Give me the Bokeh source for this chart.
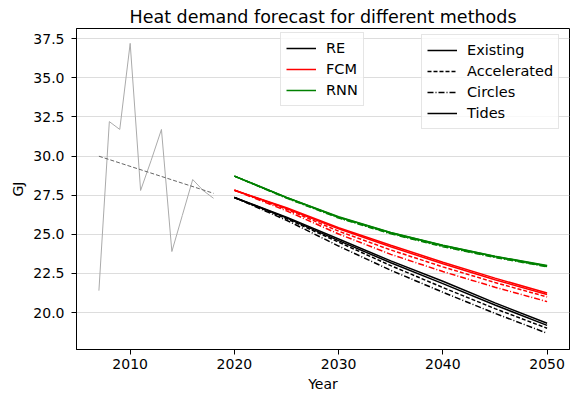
from bokeh.plotting import figure
from bokeh.models import Legend, LegendItem, FixedTicker, PrintfTickFormatter, Range1d
from bokeh.embed import file_html
from bokeh.resources import INLINE

# Observed heat demand (GJ)
hist_years = [2007, 2008, 2009, 2010, 2011, 2012, 2013, 2014, 2015, 2016, 2017, 2018]
hist_vals = [21.4, 32.2, 31.7, 37.2, 27.8, 29.7, 31.7, 23.9, 26.2, 28.5, 27.8, 27.3]

# Linear trend of the observations
trend_years = [2007, 2018]
trend_vals = [29.99, 27.62]

# Forecast horizon
fc_years = [2020, 2025, 2030, 2035, 2040, 2045, 2050]

re_existing = [27.35, 26.10, 24.70, 23.30, 22.00, 20.62, 19.32]
re_accelerated = [27.35, 26.00, 24.50, 23.00, 21.60, 20.25, 19.00]
re_circles = [27.35, 25.90, 24.25, 22.70, 21.30, 19.95, 18.68]
re_tides = [27.35, 26.05, 24.60, 23.18, 21.85, 20.48, 19.18]

fcm_existing = [27.82, 26.70, 25.42, 24.30, 23.22, 22.20, 21.25]
fcm_accelerated = [27.82, 26.60, 25.20, 24.00, 22.92, 21.92, 21.00]
fcm_circles = [27.82, 26.50, 25.02, 23.72, 22.62, 21.62, 20.70]
fcm_tides = [27.82, 26.65, 25.35, 24.20, 23.12, 22.10, 21.15]

rnn_existing = [28.72, 27.35, 26.10, 25.10, 24.28, 23.58, 22.98]
rnn_accelerated = [28.72, 27.33, 26.07, 25.06, 24.24, 23.55, 22.95]
rnn_circles = [28.72, 27.31, 26.04, 25.03, 24.21, 23.52, 22.92]
rnn_tides = [28.72, 27.36, 26.12, 25.12, 24.30, 23.60, 23.00]

methods = ["RE", "FCM", "RNN"]
scenarios = ["Existing", "Accelerated", "Circles", "Tides"]
forecasts = {
    "RE": [re_existing, re_accelerated, re_circles, re_tides],
    "FCM": [fcm_existing, fcm_accelerated, fcm_circles, fcm_tides],
    "RNN": [rnn_existing, rnn_accelerated, rnn_circles, rnn_tides],
}

y_ticks = [20.0, 22.5, 25.0, 27.5, 30.0, 32.5, 35.0, 37.5]
x_ticks = [2010, 2020, 2030, 2040, 2050]

method_colors = {"RE": "black", "FCM": "red", "RNN": "green"}
scenario_dash = {"Existing": "solid", "Accelerated": "4 2", "Circles": "6 2 1 2", "Tides": "solid"}

FONT = "DejaVu Sans"

p = figure(
    width=572, height=396, output_backend="svg", toolbar_location=None,
    x_range=Range1d(2004.85, 2052.15), y_range=Range1d(17.64, 38.15),
    min_border_left=76, min_border_right=3, min_border_top=28, min_border_bottom=47,
)
p.background_fill_color = "white"
p.border_fill_color = "white"
p.outline_line_color = "black"
p.outline_line_width = 1

# Title and axes
p.title.text = "Heat demand forecast for different methods"
p.title.align = "center"
p.title.vertical_align = "top"
p.title.text_font = FONT
p.title.text_font_size = "17.5px"
p.title.text_font_style = "normal"
p.title.text_color = "black"
p.title.standoff = 0

p.xgrid.visible = False
p.ygrid.grid_line_color = "#dddddd"
p.ygrid.grid_line_width = 1

for ax in (p.xaxis[0], p.yaxis[0]):
    ax.major_label_text_font = FONT
    ax.major_label_text_font_size = "14px"
    ax.major_label_text_color = "black"
    ax.axis_label_text_font = FONT
    ax.axis_label_text_font_size = "14px"
    ax.axis_label_text_font_style = "normal"
    ax.axis_label_text_color = "black"
    ax.axis_line_color = "black"
    ax.major_tick_line_color = "black"
    ax.major_tick_out = 5
    ax.major_tick_in = 0
    ax.minor_tick_line_color = None

p.xaxis.axis_label = "Year"
p.xaxis.ticker = FixedTicker(ticks=x_ticks)
p.xaxis.major_label_standoff = 4
p.xaxis.axis_label_standoff = 4

p.yaxis.axis_label = "GJ"
p.yaxis.ticker = FixedTicker(ticks=y_ticks)
p.yaxis.formatter = PrintfTickFormatter(format="%.1f")
p.yaxis.major_label_standoff = 7
p.yaxis.axis_label_standoff = 4

# Observations and trend
p.line(hist_years, hist_vals, line_color="#aaaaaa", line_width=1)
p.line(trend_years, trend_vals, line_color="#666666", line_width=1, line_dash="4 2")

# Forecast lines
renderers = {}
for m in methods:
    for s, vals in zip(scenarios, forecasts[m]):
        renderers[(m, s)] = p.line(fc_years, vals, line_color=method_colors[m],
                                   line_width=1.5, line_dash=scenario_dash[s])

# Method legend uses the "Existing" line of each method; scenario legend uses RE (black)
method_items = [LegendItem(label=m, renderers=[renderers[(m, "Existing")]]) for m in methods]
scenario_items = [LegendItem(label=s, renderers=[renderers[("RE", s)]]) for s in scenarios]


def make_legend(items, loc):
    leg = Legend(items=items, location=loc)
    leg.label_text_font = FONT
    leg.label_text_font_size = "14.5px"
    leg.label_text_color = "black"
    leg.glyph_width = 30
    leg.glyph_height = 20
    leg.label_height = 20
    leg.spacing = 1
    leg.padding = 5
    leg.margin = 0
    leg.label_standoff = 10
    leg.border_line_color = "#cccccc"
    leg.border_line_width = 1
    leg.background_fill_color = "white"
    leg.background_fill_alpha = 0.8
    return leg


p.add_layout(make_legend(method_items, (204, 243)))
p.add_layout(make_legend(scenario_items, (345, 220)))

open("out.html", "w").write(file_html(p, INLINE))
